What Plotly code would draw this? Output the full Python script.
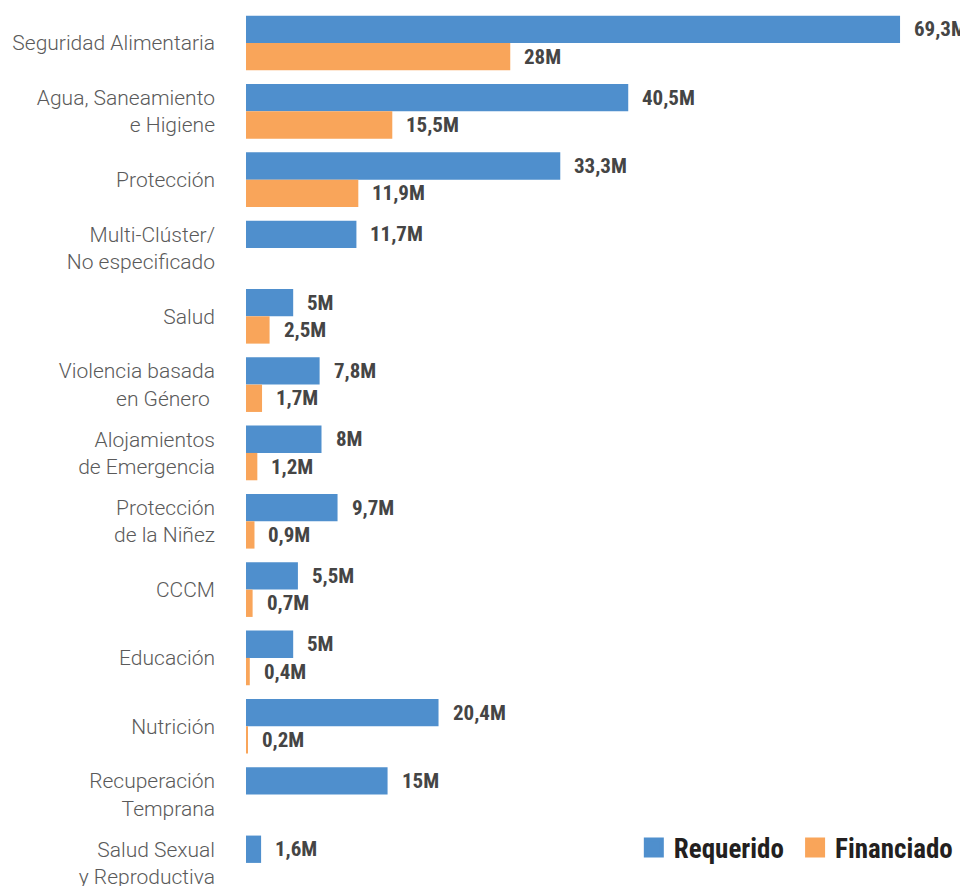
import plotly.graph_objects as go

categories = [
    "Seguridad Alimentaria",
    "Agua, Saneamiento<br>e Higiene",
    "Protección",
    "Multi-Clúster/<br>No especificado",
    "Salud",
    "Violencia basada<br>en Género\u00a0",
    "Alojamientos<br>de Emergencia",
    "Protección<br>de la Niñez",
    "CCCM",
    "Educación",
    "Nutrición",
    "Recuperación<br>Temprana",
    "Salud Sexual<br>y Reproductiva",
]
requerido = [69.3, 40.5, 33.3, 11.7, 5.0, 7.8, 8.0, 9.7, 5.5, 5.0, 20.4, 15.0, 1.6]
financiado = [28.0, 15.5, 11.9, 0, 2.5, 1.7, 1.2, 0.9, 0.7, 0.4, 0.2, 0, 0]
req_labels = ["69,3M", "40,5M", "33,3M", "11,7M", "5M", "7,8M", "8M", "9,7M", "5,5M", "5M", "20,4M", "15M", "1,6M"]
fin_labels = ["28M", "15,5M", "11,9M", "", "2,5M", "1,7M", "1,2M", "0,9M", "0,7M", "0,4M", "0,2M", "", ""]
series_names = ["Requerido", "Financiado"]

BLUE = "#4F8FCD"
ORANGE = "#F9A55A"
LABEL_FONT = "Roboto Condensed, Liberation Sans Narrow, Roboto, sans-serif"

fig = go.Figure()
fig.add_trace(go.Bar(name=series_names[0], y=categories, x=requerido, orientation="h",
                     marker=dict(color=BLUE, line=dict(width=0)), showlegend=False))
fig.add_trace(go.Bar(name=series_names[1], y=categories, x=financiado, orientation="h",
                     marker=dict(color=ORANGE, line=dict(width=0)), showlegend=False))
# legend entries (square swatches)
for nm, col in zip(series_names, [BLUE, ORANGE]):
    fig.add_trace(go.Scatter(x=[None], y=[None], mode="markers", name=nm + "\u00a0",
                             marker=dict(symbol="square", size=16, color=col,
                                         line=dict(width=4, color=col))))

annotations = []
for cat, v, lab in zip(categories, requerido, req_labels):
    if lab:
        annotations.append(dict(x=v, y=cat, text=lab, xref="x", yref="y", showarrow=False,
                                xanchor="left", yanchor="middle", xshift=12, yshift=13.6,
                                font=dict(family=LABEL_FONT, size=21, color="#454545", weight="bold")))
for cat, v, lab in zip(categories, financiado, fin_labels):
    if lab:
        annotations.append(dict(x=v, y=cat, text=lab, xref="x", yref="y", showarrow=False,
                                xanchor="left", yanchor="middle", xshift=12, yshift=-13.6,
                                font=dict(family=LABEL_FONT, size=21, color="#454545", weight="bold")))

fig.update_layout(
    width=960, height=878,
    margin=dict(l=238, r=0, t=0, b=0, autoexpand=False),
    paper_bgcolor="white", plot_bgcolor="white",
    barmode="group", bargap=0.2, bargroupgap=0,
    showlegend=True,
    legend=dict(orientation="h", x=0.9956, xanchor="right", y=(878 - 840) / 878, yanchor="middle",
                font=dict(family=LABEL_FONT, size=27, color="#231F20", weight="bold"),
                itemsizing="trace", traceorder="normal", bgcolor="rgba(0,0,0,0)"),
    xaxis=dict(range=[0, 76.5], visible=False, fixedrange=True, automargin=False),
    yaxis=dict(type="category", range=[12.338, -0.512], showgrid=False, zeroline=False,
               showline=False, ticks="", ticklabelstandoff=30, automargin=False,
               tickfont=dict(family="Roboto", size=21, color="#5A5A5A", weight=300)),
    annotations=annotations,
    font=dict(family="Roboto"),
)

fig.write_html("out.html")
